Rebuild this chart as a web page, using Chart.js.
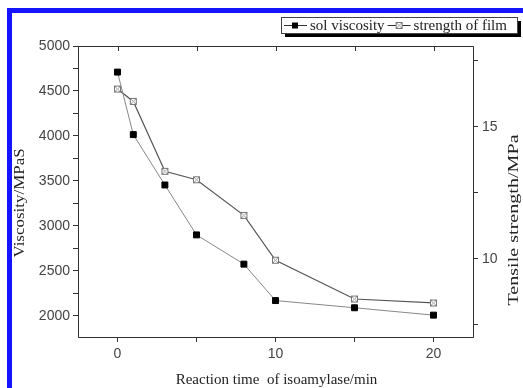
<!DOCTYPE html>
<html>
<head>
<meta charset="utf-8">
<script src="https://cdn.jsdelivr.net/npm/chart.js@4.4.0/dist/chart.umd.min.js"></script>
<style>
  html, body { margin: 0; padding: 0; background: #fff; overflow: hidden; }
  #wrap { width: 523px; height: 388px; }
</style>
</head>
<body>
<div id="wrap"><canvas id="chart" width="523" height="388"></canvas></div>
<script>
// data
const reactionTime = [0, 1, 3, 5, 8, 10, 15, 20];
const solViscosity = [4710, 4015, 3455, 2900, 2575, 2170, 2090, 2008];
const filmStrength = [16.43, 15.96, 13.31, 12.99, 11.64, 9.94, 8.47, 8.32];

// tick marks and labels
const xTicks = [0, 5, 10, 15, 20];
const xLabels = [0, 10, 20];
const leftTicks = [2000, 2250, 2500, 2750, 3000, 3250, 3500, 3750, 4000, 4250, 4500, 4750, 5000];
const leftLabels = [2000, 2500, 3000, 3500, 4000, 4500, 5000];
const rightTicks = [7.5, 10, 12.5, 15, 17.5];
const rightLabels = [10, 15];

const seriesNames = ['sol viscosity', 'strength of film'];
const xTitle = 'Reaction time  of isoamylase/min';
const leftTitle = 'Viscosity/MPaS';
const rightTitle = 'Tensile strength/MPa';

const SERIF = '"Liberation Serif", "Times New Roman", serif';
const SANS = '"Liberation Sans", Arial, sans-serif';
const AXIS = '#333';

// hollow square with a cross, used for the film strength points
function crossBox() {
    const c = document.createElement('canvas');
    c.width = 9; c.height = 9;
    const g = c.getContext('2d');
    g.fillStyle = '#fff';
    g.fillRect(1, 1, 7, 7);
    g.strokeStyle = '#777';
    g.lineWidth = 1;
    g.strokeRect(1.5, 1.5, 6, 6);
    g.strokeStyle = '#999';
    g.beginPath();
    g.moveTo(2, 2); g.lineTo(7, 7);
    g.moveTo(7, 2); g.lineTo(2, 7);
    g.stroke();
    return c;
}
const crossMarker = crossBox();

// vertical title, read bottom to top, stretched along its length like the scanned figure
function verticalTitle(ctx, text, cx, cy, stretch) {
    ctx.save();
    ctx.translate(cx, cy);
    ctx.rotate(-Math.PI / 2);
    ctx.scale(stretch, 1);
    ctx.fillText(text, 0, 0);
    ctx.restore();
}

const decorations = {
    id: 'decorations',
    beforeDraw(chart) {
        const ctx = chart.ctx;
        ctx.save();
        ctx.fillStyle = '#fff';
        ctx.fillRect(0, 0, chart.width, chart.height);
        // blue frame on top and left
        ctx.fillStyle = '#1414ff';
        ctx.fillRect(7, 8, chart.width - 7, 5);
        ctx.fillRect(7, 8, 5, chart.height - 8);
        ctx.restore();
    },
    afterDraw(chart) {
        const ctx = chart.ctx;
        const area = chart.chartArea;
        const xs = chart.scales.x;
        ctx.save();

        // top border with inward ticks
        ctx.strokeStyle = AXIS;
        ctx.lineWidth = 1;
        ctx.beginPath();
        ctx.moveTo(area.left, area.top + 0.5);
        ctx.lineTo(area.right, area.top + 0.5);
        xTicks.forEach(v => {
            const px = Math.round(xs.getPixelForValue(v)) + 0.5;
            ctx.moveTo(px, area.top);
            ctx.lineTo(px, area.top + 5);
        });
        ctx.stroke();

        // axis titles
        ctx.fillStyle = '#222';
        ctx.font = '15px ' + SERIF;
        ctx.textAlign = 'center';
        ctx.textBaseline = 'middle';
        ctx.fillText(xTitle, (area.left + area.right) / 2 + 1, 380);
        verticalTitle(ctx, leftTitle, 20, 203, 1.13);
        verticalTitle(ctx, rightTitle, 514, 220, 1.34);

        // legend box with shadow
        const bx = 281, by = 17, bw = 236, bh = 16;
        ctx.fillStyle = '#000';
        ctx.fillRect(bx + 4, by + 4, bw, bh);
        ctx.fillStyle = '#fff';
        ctx.fillRect(bx, by, bw, bh);
        ctx.strokeStyle = '#444';
        ctx.strokeRect(bx + 0.5, by + 0.5, bw, bh);

        const cy = by + bh / 2 + 0.5;
        ctx.font = '15px ' + SERIF;
        ctx.textAlign = 'left';
        let x = bx + 3;
        chart.data.datasets.forEach((ds, i) => {
            ctx.strokeStyle = '#333';
            ctx.beginPath();
            ctx.moveTo(x, cy);
            ctx.lineTo(x + 23, cy);
            ctx.stroke();
            if (i === 0) {
                ctx.fillStyle = '#000';
                ctx.fillRect(x + 8, cy - 3, 6, 6);
            } else {
                ctx.drawImage(crossMarker, x + 7, cy - 4.5);
            }
            ctx.fillStyle = '#222';
            ctx.fillText(ds.label, x + 26, cy + 1);
            x += 26 + ctx.measureText(ds.label).width + 3;
        });
        ctx.restore();
    }
};

const tickFont = { family: SANS, size: 14 };

new Chart(document.getElementById('chart'), {
    type: 'line',
    data: {
        datasets: [
            {
                label: seriesNames[0],
                data: reactionTime.map((t, i) => ({ x: t, y: solViscosity[i] })),
                yAxisID: 'y',
                borderColor: '#888',
                borderWidth: 1,
                pointStyle: 'rect',
                pointRadius: 4.2,
                pointBorderWidth: 1,
                pointBackgroundColor: '#000',
                pointBorderColor: '#000',
                tension: 0
            },
            {
                label: seriesNames[1],
                data: reactionTime.map((t, i) => ({ x: t, y: filmStrength[i] })),
                yAxisID: 'y1',
                borderColor: '#555',
                borderWidth: 1.2,
                pointStyle: crossMarker,
                pointRadius: 4,
                tension: 0
            }
        ]
    },
    options: {
        responsive: false,
        animation: false,
        devicePixelRatio: 1,
        layout: { padding: { top: 46, left: 0, right: 0, bottom: 0 } },
        plugins: {
            legend: { display: false },
            tooltip: { enabled: false }
        },
        scales: {
            x: {
                type: 'linear',
                position: 'bottom',
                min: -2.5,
                max: 22.5,
                afterBuildTicks: s => { s.ticks = xTicks.map(v => ({ value: v })); },
                afterFit: s => { s.height = 51; },
                grid: { drawOnChartArea: false, tickLength: 5, color: AXIS },
                border: { color: AXIS },
                ticks: {
                    autoSkip: false,
                    maxRotation: 0,
                    padding: 4,
                    color: '#444',
                    font: tickFont,
                    callback: v => xLabels.includes(v) ? String(v) : ''
                }
            },
            y: {
                type: 'linear',
                position: 'left',
                min: 1765,
                max: 5000,
                afterBuildTicks: s => { s.ticks = leftTicks.map(v => ({ value: v })); },
                afterFit: s => { s.width = 78; },
                grid: { drawOnChartArea: false, tickLength: 5, color: AXIS },
                border: { color: AXIS },
                ticks: {
                    autoSkip: false,
                    padding: 3,
                    color: '#444',
                    font: tickFont,
                    callback: v => leftLabels.includes(v) ? String(v) : ''
                }
            },
            y1: {
                type: 'linear',
                position: 'right',
                min: 7.03,
                max: 18.06,
                afterBuildTicks: s => { s.ticks = rightTicks.map(v => ({ value: v })); },
                afterFit: s => { s.width = 50; },
                grid: { drawOnChartArea: false, tickLength: 5, color: AXIS },
                border: { color: AXIS },
                ticks: {
                    autoSkip: false,
                    padding: 4,
                    color: '#444',
                    font: tickFont,
                    callback: v => rightLabels.includes(v) ? String(v) : ''
                }
            }
        }
    },
    plugins: [decorations]
});
</script>
</body>
</html>
